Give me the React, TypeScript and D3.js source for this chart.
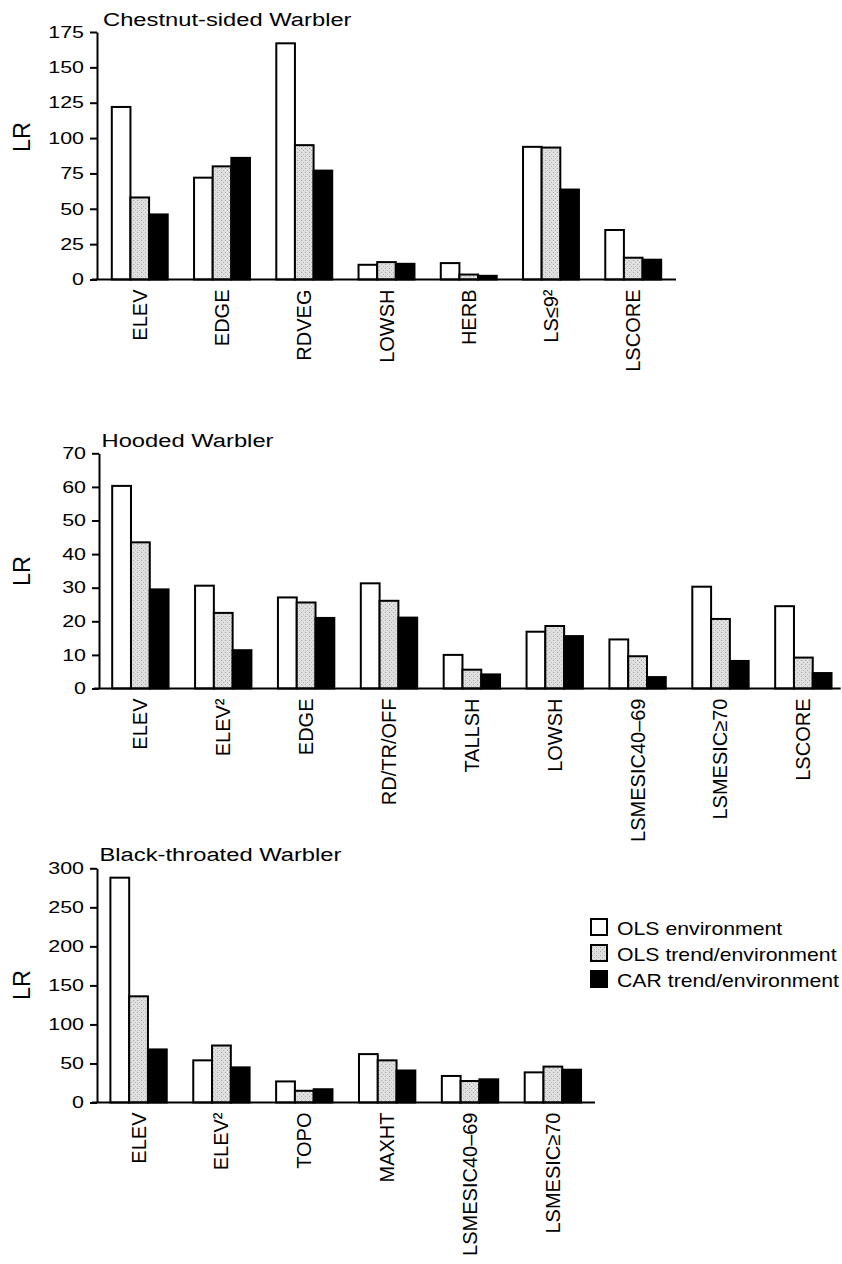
import { useRef, useEffect } from "react";
import * as d3 from "d3";

const seriesNames = ["OLS environment", "OLS trend/environment", "CAR trend/environment"];

// Chestnut-sided Warbler
const chestnutCategories = ["ELEV", "EDGE", "RDVEG", "LOWSH", "HERB", "LS≤9²", "LSCORE"];
const chestnutOlsEnv = [122, 72, 167, 10.4, 11.6, 93.8, 35];
const chestnutOlsTrend = [58, 80, 95, 12.3, 3.5, 93.3, 15.4];
const chestnutCarTrend = [46, 86, 77, 11.1, 2.6, 63.6, 14];
const chestnutTicks = [0, 25, 50, 75, 100, 125, 150, 175];

// Hooded Warbler
const hoodedCategories = ["ELEV", "ELEV²", "EDGE", "RD/TR/OFF", "TALLSH", "LOWSH", "LSMESIC40–69", "LSMESIC≥70", "LSCORE"];
const hoodedOlsEnv = [60.3, 30.6, 27.1, 31.3, 10, 16.9, 14.6, 30.3, 24.5];
const hoodedOlsTrend = [43.5, 22.5, 25.6, 26.1, 5.6, 18.6, 9.6, 20.7, 9.2];
const hoodedCarTrend = [29.5, 11.4, 21, 21.1, 4.2, 15.6, 3.4, 8.2, 4.6];
const hoodedTicks = [0, 10, 20, 30, 40, 50, 60, 70];

// Black-throated Warbler
const blackCategories = ["ELEV", "ELEV²", "TOPO", "MAXHT", "LSMESIC40–69", "LSMESIC≥70"];
const blackOlsEnv = [288, 54, 27, 62, 34, 38.6];
const blackOlsTrend = [136, 73, 15, 54, 27.5, 46];
const blackCarTrend = [68, 45, 17, 41, 29.7, 42];
const blackTicks = [0, 50, 100, 150, 200, 250, 300];

const FONT = "'Liberation Sans', Arial, Helvetica, sans-serif";
const fills = ["#ffffff", "url(#stipple)", "#000000"];

const panels = [
    {
        title: "Chestnut-sided Warbler", categories: chestnutCategories,
        series: [chestnutOlsEnv, chestnutOlsTrend, chestnutCarTrend], ticks: chestnutTicks,
        axisX: 97, top: 32, bottom: 279.5, xEnd: 676, titleX: 103, titleY: 25.5, lrY: 137,
        padOuter: 0.18, align: 0.5,
    },
    {
        title: "Hooded Warbler", categories: hoodedCategories,
        series: [hoodedOlsEnv, hoodedOlsTrend, hoodedCarTrend], ticks: hoodedTicks,
        axisX: 99, top: 453.3, bottom: 688.5, xEnd: 840.7, titleX: 101.5, titleY: 446.7, lrY: 571,
        padOuter: 0.135, align: 0.59,
    },
    {
        title: "Black-throated Warbler", categories: blackCategories,
        series: [blackOlsEnv, blackOlsTrend, blackCarTrend], ticks: blackTicks,
        axisX: 97, top: 868.3, bottom: 1102.5, xEnd: 595, titleX: 99.5, titleY: 860.7, lrY: 985,
        padOuter: 0.165, align: 0.49,
    },
];

function drawPanel(svg: any, p: any) {
    const g = svg.append("g");

    const x0 = d3.scaleBand()
        .domain(p.categories)
        .range([p.axisX, p.xEnd])
        .paddingInner(0.32)
        .paddingOuter(p.padOuter)
        .align(p.align);

    const x1 = d3.scaleBand()
        .domain(seriesNames)
        .range([0, x0.bandwidth()]);

    const y = d3.scaleLinear()
        .domain([0, p.ticks[p.ticks.length - 1]])
        .range([p.bottom, p.top]);

    // bars
    p.categories.forEach((cat: string, ci: number) => {
        seriesNames.forEach((s, si) => {
            const v = p.series[si][ci];
            g.append("rect")
                .attr("x", (x0(cat) as number) + (x1(s) as number))
                .attr("y", y(v))
                .attr("width", x1.bandwidth())
                .attr("height", y(0) - y(v))
                .attr("fill", fills[si])
                .attr("stroke", "#000")
                .attr("stroke-width", 2);
        });
    });

    // y axis
    const yAxis = d3.axisLeft(y)
        .tickValues(p.ticks)
        .tickSize(7)
        .tickPadding(3)
        .tickSizeOuter(0);

    const ya = g.append("g")
        .attr("transform", `translate(${p.axisX},0)`)
        .call(yAxis);
    ya.attr("font-size", 16.5).attr("font-family", FONT);
    ya.select(".domain").attr("stroke-width", 2);
    ya.selectAll("line").attr("stroke-width", 2);
    ya.selectAll("text").attr("fill", "#000").attr("transform", "scale(1.3,1)");

    // baseline
    g.append("line")
        .attr("x1", p.axisX - 5).attr("x2", p.xEnd)
        .attr("y1", y(0)).attr("y2", y(0))
        .attr("stroke", "#000").attr("stroke-width", 2);

    // category labels
    p.categories.forEach((cat: string) => {
        const cx = (x0(cat) as number) + x0.bandwidth() / 2;
        g.append("text")
            .attr("transform", `translate(${cx + 7},${y(0) + 10}) rotate(-90)`)
            .attr("text-anchor", "end")
            .attr("font-family", FONT)
            .attr("font-size", 20)
            .text(cat);
    });

    // title
    g.append("text")
        .attr("transform", `translate(${p.titleX},${p.titleY}) scale(1.32,1)`)
        .attr("font-family", FONT)
        .attr("font-size", 18)
        .text(p.title);

    // LR label
    g.append("text")
        .attr("transform", `translate(30,${p.lrY}) rotate(-90)`)
        .attr("text-anchor", "middle")
        .attr("font-family", FONT)
        .attr("font-size", 23.5)
        .text("LR");
}

export default function App() {
    const svgRef = useRef<SVGSVGElement | null>(null);

    useEffect(() => {
        if (!svgRef.current) return;
        const svg = d3.select(svgRef.current);
        svg.selectAll("*").remove();

        // stipple fill for the grey bars
        const pat = svg.append("defs").append("pattern")
            .attr("id", "stipple")
            .attr("width", 4).attr("height", 4)
            .attr("patternUnits", "userSpaceOnUse");
        pat.append("rect").attr("width", 4).attr("height", 4).attr("fill", "#dedede");
        pat.append("rect").attr("x", 1).attr("y", 0).attr("width", 1).attr("height", 1).attr("fill", "#b0b0b0");
        pat.append("rect").attr("x", 3).attr("y", 2).attr("width", 1).attr("height", 1).attr("fill", "#bdbdbd");

        panels.forEach((p) => drawPanel(svg, p));

        // legend
        const legend = svg.append("g").attr("transform", "translate(591,919)");
        seriesNames.forEach((s, i) => {
            legend.append("rect")
                .attr("x", 0).attr("y", i * 26)
                .attr("width", 16).attr("height", 16)
                .attr("fill", fills[i])
                .attr("stroke", "#000").attr("stroke-width", 2);
            legend.append("text")
                .attr("transform", `translate(26,${i * 26 + 15.5}) scale(1.2,1)`)
                .attr("font-family", FONT)
                .attr("font-size", 17.7)
                .text(s);
        });
    }, []);

    return (
        <svg ref={svgRef} width={842} height={1264}
            style={{ position: "absolute", left: 0, top: 0, background: "#fff" }} />
    );
}
